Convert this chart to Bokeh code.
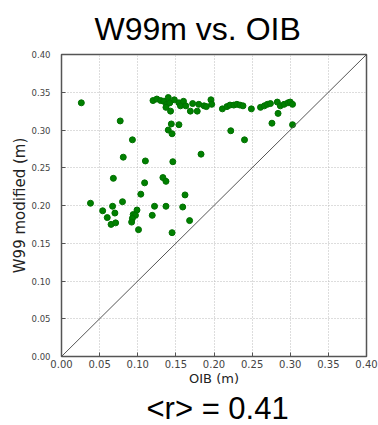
from bokeh.plotting import figure
from bokeh.models import Title, Slope, Range1d, FixedTicker
from bokeh.embed import file_html
from bokeh.resources import INLINE

# OIB (m) values
oib = [
    0.026, 0.077, 0.093, 0.081, 0.110, 0.146, 0.183, 0.068, 0.109, 0.133,
    0.137, 0.104, 0.162, 0.038, 0.080, 0.067, 0.122, 0.137, 0.159, 0.054,
    0.070, 0.099, 0.060, 0.094, 0.097, 0.093, 0.092, 0.119, 0.168, 0.065,
    0.071, 0.101, 0.145,
    0.120, 0.125, 0.130, 0.134, 0.138, 0.140, 0.142, 0.137, 0.143, 0.148,
    0.154, 0.156, 0.160, 0.163, 0.169, 0.172, 0.178, 0.180, 0.187, 0.190,
    0.196, 0.197, 0.211, 0.217, 0.221, 0.226, 0.230, 0.234, 0.238, 0.249,
    0.261, 0.266, 0.270, 0.274, 0.283, 0.287, 0.292, 0.297, 0.300, 0.303,
    0.144, 0.154, 0.140, 0.145, 0.222, 0.240, 0.284, 0.276, 0.303,
]
# W99 modified (m) values
w99m = [
    0.336, 0.312, 0.287, 0.264, 0.259, 0.258, 0.268, 0.236, 0.230, 0.237,
    0.232, 0.215, 0.214, 0.203, 0.205, 0.199, 0.199, 0.199, 0.198, 0.193,
    0.190, 0.194, 0.184, 0.188, 0.187, 0.183, 0.178, 0.187, 0.180, 0.175,
    0.177, 0.168, 0.164,
    0.339, 0.341, 0.339, 0.338, 0.334, 0.343, 0.336, 0.330, 0.325, 0.340,
    0.336, 0.332, 0.338, 0.332, 0.325, 0.335, 0.325, 0.334, 0.332, 0.331,
    0.340, 0.334, 0.328, 0.331, 0.333, 0.333, 0.334, 0.333, 0.332, 0.328,
    0.330, 0.332, 0.334, 0.335, 0.337, 0.332, 0.334, 0.336, 0.337, 0.334,
    0.308, 0.307, 0.300, 0.295, 0.299, 0.287, 0.322, 0.309, 0.307,
]
ticks = [0.0, 0.05, 0.10, 0.15, 0.20, 0.25, 0.30, 0.35, 0.40]
tick_labels = {t: f"{t:.2f}" for t in ticks}
title_text = "W99m vs. OIB"
r_text = "<r> = 0.41"

p = figure(width=378, height=425, output_backend="svg", toolbar_location=None,
           x_range=Range1d(0, 0.4), y_range=Range1d(0, 0.4),
           min_border_left=61, min_border_right=12, min_border_top=10,
           min_border_bottom=0)

p.add_layout(Title(text=title_text, align="left", text_font_size="32px",
                   text_font="Liberation Sans", text_font_style="normal",
                   text_color="black", offset=33, standoff=16), "above")
p.add_layout(Title(text=r_text, align="left", text_font_size="31px",
                   text_font="Liberation Sans", text_font_style="normal",
                   text_color="black", offset=85, standoff=0), "below")

p.scatter(oib, w99m, size=6, color="#008000", line_color="#007000")
p.add_layout(Slope(gradient=1, y_intercept=0, line_color="#555555", line_width=1))

for ax in (p.xaxis[0], p.yaxis[0]):
    ax.ticker = FixedTicker(ticks=ticks)
    ax.major_label_overrides = tick_labels
    ax.major_tick_in = 4
    ax.major_tick_out = 0
    ax.minor_tick_line_color = None
    ax.axis_line_color = "#555555"
    ax.major_tick_line_color = "#555555"
    ax.major_label_text_font = "DejaVu Sans"
    ax.major_label_text_color = "#444444"
    ax.axis_label_text_font = "DejaVu Sans"
    ax.axis_label_text_font_style = "normal"
    ax.axis_label_text_color = "#222222"

p.xaxis.axis_label = "OIB (m)"
p.xaxis.major_label_text_font_size = "10px"
p.xaxis.axis_label_text_font_size = "13px"
p.xaxis.major_label_standoff = 3
p.xaxis.axis_label_standoff = 0
p.yaxis.axis_label = "W99 modified (m)"
p.yaxis.major_label_text_font_size = "8.5px"
p.yaxis.axis_label_text_font_size = "15px"
p.yaxis.major_label_standoff = 11
p.yaxis.axis_label_standoff = 0

p.outline_line_color = "#555555"
p.outline_line_width = 1.5
p.grid.grid_line_color = "#bbbbbb"
p.grid.grid_line_dash = "1 2"
p.grid.ticker = FixedTicker(ticks=ticks)

open("out.html", "w").write(file_html(p, INLINE))
